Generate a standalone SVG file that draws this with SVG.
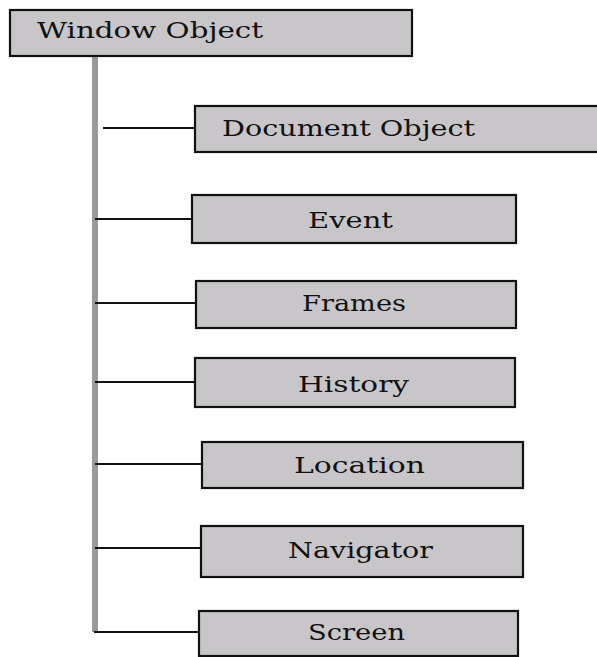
<svg xmlns="http://www.w3.org/2000/svg" width="597" height="657" viewBox="0 0 597 657">
<style>
.box{fill:#c8c6c9;stroke:#111;stroke-width:2.2}
.lbl{font-family:"DejaVu Serif","Liberation Serif",serif;font-size:23px;fill:#111}
.conn{stroke:#111;stroke-width:2;fill:none}
.trunk{stroke:#9a9a9a;stroke-width:6;fill:none}
</style>
<rect width="597" height="657" fill="#fff"/>
<g id="connectors">
<line class="trunk" x1="95" y1="56" x2="95" y2="632"/>
<line class="conn" x1="103" y1="128" x2="195" y2="128"/>
<line class="conn" x1="95" y1="219" x2="192" y2="219"/>
<line class="conn" x1="95" y1="303" x2="196" y2="303"/>
<line class="conn" x1="95" y1="382" x2="195" y2="382"/>
<line class="conn" x1="95" y1="464" x2="202" y2="464"/>
<line class="conn" x1="95" y1="548" x2="201" y2="548"/>
<line class="conn" x1="94" y1="632" x2="199" y2="632"/>
</g>
<g id="window">
<rect class="box" x="10" y="10" width="402" height="46"/>
<text class="lbl" x="37" y="38" textLength="226" lengthAdjust="spacingAndGlyphs">Window Object</text>
</g>
<g id="document">
<rect class="box" x="195" y="106" width="410" height="46"/>
<text class="lbl" x="222" y="136" textLength="253" lengthAdjust="spacingAndGlyphs">Document Object</text>
</g>
<g id="event">
<rect class="box" x="192" y="195" width="324" height="48"/>
<text class="lbl" x="308" y="228" textLength="85" lengthAdjust="spacingAndGlyphs">Event</text>
</g>
<g id="frames">
<rect class="box" x="196" y="281" width="320" height="47"/>
<text class="lbl" x="302" y="311" textLength="104" lengthAdjust="spacingAndGlyphs">Frames</text>
</g>
<g id="history">
<rect class="box" x="195" y="358" width="320" height="49"/>
<text class="lbl" x="298" y="392" textLength="111" lengthAdjust="spacingAndGlyphs">History</text>
</g>
<g id="location">
<rect class="box" x="202" y="442" width="321" height="46"/>
<text class="lbl" x="294" y="473" textLength="131" lengthAdjust="spacingAndGlyphs">Location</text>
</g>
<g id="navigator">
<rect class="box" x="201" y="526" width="322" height="51"/>
<text class="lbl" x="288" y="558" textLength="145" lengthAdjust="spacingAndGlyphs">Navigator</text>
</g>
<g id="screen">
<rect class="box" x="199" y="611" width="319" height="45"/>
<text class="lbl" x="308" y="640" textLength="97" lengthAdjust="spacingAndGlyphs">Screen</text>
</g>
</svg>
